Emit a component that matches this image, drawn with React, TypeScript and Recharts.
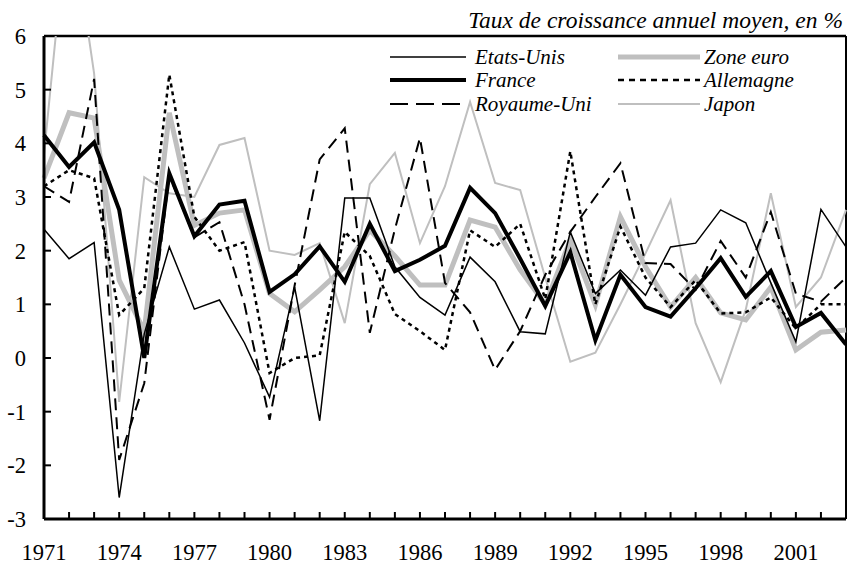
import React from 'react';
import { LineChart, Line, XAxis, YAxis, ReferenceLine, Legend } from 'recharts';

// Taux de croissance annuel moyen, en %
const years = [
  1971, 1972, 1973, 1974, 1975, 1976, 1977, 1978, 1979, 1980, 1981,
  1982, 1983, 1984, 1985, 1986, 1987, 1988, 1989, 1990, 1991, 1992,
  1993, 1994, 1995, 1996, 1997, 1998, 1999, 2000, 2001, 2002, 2003,
];

const etatsUnis = [
  2.4, 1.85, 2.15, -2.6, 0.45, 2.07, 0.91, 1.08, 0.28, -0.73, 1.32,
  -1.17, 2.98, 2.98, 1.7, 1.13, 0.8, 1.88, 1.42, 0.49, 0.45, 2.35,
  1.2, 1.64, 1.17, 2.07, 2.14, 2.76, 2.52, 1.4, 0.3, 2.77, 2.07,
];
const france = [
  4.15, 3.56, 4.02, 2.76, 0.0, 3.44, 2.27, 2.86, 2.93, 1.23, 1.56,
  2.08, 1.42, 2.5, 1.62, 1.83, 2.09, 3.17, 2.7, 1.85, 0.97, 1.97,
  0.33, 1.55, 0.95, 0.77, 1.3, 1.86, 1.14, 1.62, 0.58, 0.84, 0.25,
];
const royaumeUni = [
  3.2, 2.91, 5.2, -1.9, -0.47, 3.4, 2.25, 2.53, 1.0, -1.15, 1.35,
  3.7, 4.28, 0.47, 2.4, 4.1, 1.4, 0.85, -0.22, 0.5, 1.55, 2.35,
  3.0, 3.63, 1.77, 1.75, 1.27, 2.18, 1.5, 2.72, 1.2, 1.05, 1.5,
];
const zoneEuro = [
  3.35, 4.57, 4.47, 1.45, 0.5, 4.57, 2.47, 2.7, 2.76, 1.2, 0.86,
  1.27, 1.7, 2.38, 1.9, 1.36, 1.36, 2.57, 2.44, 1.64, 1.0, 2.2,
  0.99, 2.63, 1.7, 0.95, 1.5, 0.84, 0.71, 1.32, 0.15, 0.48, 0.52,
];
const allemagne = [
  3.2, 3.5, 3.35, 0.8, 1.3, 5.28, 2.63, 2.0, 2.16, -0.28, 0.0,
  0.05, 2.35, 1.9, 0.82, 0.5, 0.15, 2.38, 2.07, 2.5, 1.1, 3.85,
  1.0, 2.45, 1.5, 0.95, 1.45, 0.83, 0.85, 1.13, 0.55, 1.0, 1.0,
];
const japon = [
  3.8, 8.5, 5.3, -0.82, 3.37, 3.07, 3.0, 3.97, 4.1, 2.0, 1.92,
  2.14, 0.65, 3.24, 3.82, 2.14, 3.2, 4.77, 3.26, 3.13, 1.5, -0.07,
  0.1, 1.0, 1.95, 2.94, 0.65, -0.45, 0.9, 3.07, 0.95, 1.5, 2.76,
];

const yTicks = [-3, -2, -1, 0, 1, 2, 3, 4, 5, 6];
const labelYears = [1971, 1974, 1977, 1980, 1983, 1986, 1989, 1992, 1995, 1998, 2001];

const data = years.map((year, i) => ({
  year,
  etatsUnis: etatsUnis[i],
  france: france[i],
  royaumeUni: royaumeUni[i],
  zoneEuro: zoneEuro[i],
  allemagne: allemagne[i],
  japon: japon[i],
}));

const W = 847;
const H = 565;
const PLOT_LEFT = 44;
const PLOT_TOP = 36;
const PLOT_BOTTOM = 519;
const FONT = 'Liberation Serif, Times New Roman, DejaVu Serif, serif';
const GRAY = '#bfbfbf';
const tickTxt = { fontFamily: FONT, fontSize: 22.5 };
const legTxt = { fontFamily: FONT, fontSize: 21, fontStyle: 'italic' as const };
const titleTxt = { fontFamily: FONT, fontSize: 23.5, fontStyle: 'italic' as const };

type Serie = { key: string; label: string; color: string; width: number; dash?: string; legendDash?: string };

const styles: Record<string, Serie> = {
  etatsUnis: { key: 'etatsUnis', label: 'Etats-Unis', color: '#000', width: 1.5 },
  france: { key: 'france', label: 'France', color: '#000', width: 4 },
  royaumeUni: { key: 'royaumeUni', label: 'Royaume-Uni', color: '#000', width: 2, dash: '12 7', legendDash: '18 8' },
  zoneEuro: { key: 'zoneEuro', label: 'Zone euro', color: GRAY, width: 5 },
  allemagne: { key: 'allemagne', label: 'Allemagne', color: '#000', width: 2.5, dash: '4 4', legendDash: '6 5' },
  japon: { key: 'japon', label: 'Japon', color: GRAY, width: 2 },
};

// drawing order: grey underneath, France on top
const drawOrder = ['zoneEuro', 'japon', 'etatsUnis', 'allemagne', 'royaumeUni', 'france'];
const legendCols = [
  ['etatsUnis', 'france', 'royaumeUni'],
  ['zoneEuro', 'allemagne', 'japon'],
];

const XTick = (props: any) => {
  const { x, payload } = props;
  const yr = payload.value;
  return (
    <g>
      <line x1={x} x2={x} y1={PLOT_BOTTOM} y2={PLOT_BOTTOM - 7} stroke="#000" strokeWidth={2} />
      {labelYears.includes(yr) && (
        <text x={x} y={PLOT_BOTTOM + 41} textAnchor="middle" style={tickTxt} fill="#000">
          {yr}
        </text>
      )}
    </g>
  );
};

const YTick = (props: any) => {
  const { y, payload } = props;
  return (
    <g>
      <line x1={PLOT_LEFT} x2={PLOT_LEFT + 7} y1={y} y2={y} stroke="#000" strokeWidth={2} />
      <text x={26} y={y + 8} textAnchor="end" style={tickTxt} fill="#000">
        {payload.value}
      </text>
    </g>
  );
};

const LegendBox = () => {
  const colX = [
    { x1: 10, x2: 86, tx: 95 },
    { x1: 238, x2: 320, tx: 324 },
  ];
  const rowY = [17, 40, 64];
  return (
    <svg width={460} height={80} style={{ display: 'block' }}>
      {legendCols.map((col, c) =>
        col.map((k, r) => {
          const s = styles[k];
          return (
            <g key={k}>
              <line
                x1={colX[c].x1}
                x2={colX[c].x2}
                y1={rowY[r]}
                y2={rowY[r]}
                stroke={s.color}
                strokeWidth={s.width}
                strokeDasharray={s.legendDash}
              />
              <text x={colX[c].tx} y={rowY[r] + 7} style={legTxt} fill="#000">
                {s.label}
              </text>
            </g>
          );
        })
      )}
    </svg>
  );
};

export default function App() {
  return (
    <div style={{ position: 'absolute', left: 0, top: 0, width: W, height: H, background: '#fff', fontFamily: FONT }}>
      <LineChart width={W} height={H} data={data} margin={{ top: PLOT_TOP, right: 1, bottom: 0, left: 0 }}>
        <XAxis
          dataKey="year"
          type="number"
          domain={[1971, 2003]}
          ticks={years}
          interval={0}
          height={46}
          tickLine={false}
          tickSize={0}
          tick={<XTick />}
          axisLine={{ stroke: '#000', strokeWidth: 3 }}
        />
        <YAxis
          type="number"
          domain={[-3, 6]}
          ticks={yTicks}
          interval={0}
          allowDataOverflow
          width={PLOT_LEFT}
          tickLine={false}
          tickSize={0}
          tick={<YTick />}
          axisLine={{ stroke: '#000', strokeWidth: 3 }}
        />
        <ReferenceLine y={6} stroke="#000" strokeWidth={2.5} />
        <ReferenceLine x={2003} stroke="#000" strokeWidth={2} />
        {drawOrder.map((k) => {
          const s = styles[k];
          return (
            <Line
              key={k}
              type="linear"
              dataKey={k}
              name={s.label}
              stroke={s.color}
              strokeWidth={s.width}
              strokeDasharray={s.dash}
              dot={false}
              activeDot={false}
              isAnimationActive={false}
            />
          );
        })}
        <Legend
          layout="horizontal"
          verticalAlign="middle"
          align="center"
          content={() => <LegendBox />}
          wrapperStyle={{ left: 380, top: 40, width: 460, height: 80 }}
        />
      </LineChart>
      <svg width={W} height={34} style={{ position: 'absolute', left: 0, top: 0 }}>
        <text x={843} y={28} textAnchor="end" style={titleTxt} fill="#000">
          Taux de croissance annuel moyen, en %
        </text>
      </svg>
    </div>
  );
}
